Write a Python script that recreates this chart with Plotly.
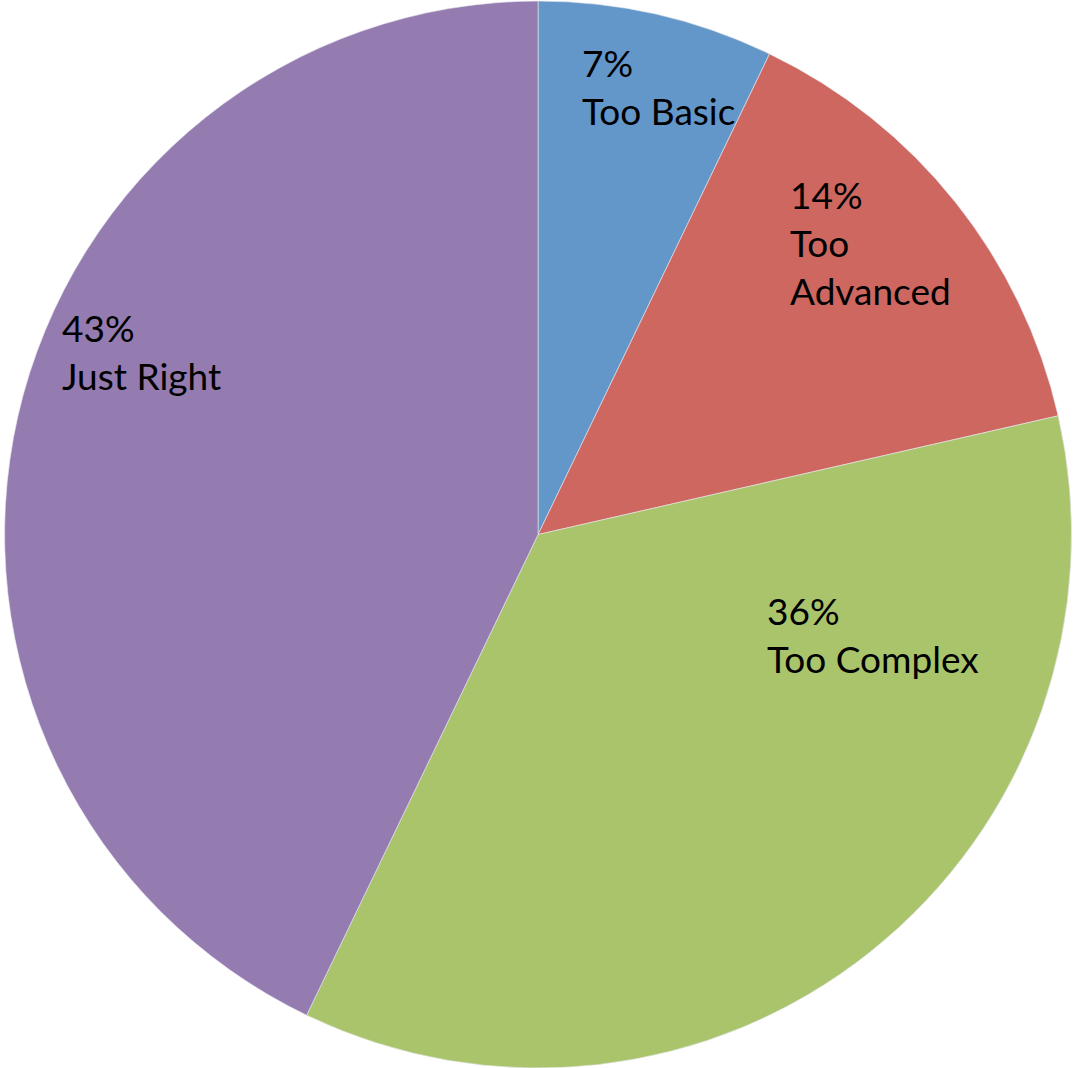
import plotly.graph_objects as go

labels = ["Too Basic", "Too Advanced", "Too Complex", "Just Right"]
values = [1, 2, 5, 6]
colors = ["#6397C9", "#CD6760", "#AAC46C", "#947BB0"]
label_text = ["7%<br>Too Basic", "14%<br>Too<br>Advanced", "36%<br>Too Complex", "43%<br>Just Right"]
# label anchor positions (top-left) in pixels
label_px = [(580, 38), (788, 170), (765, 586), (60, 303)]

W, H = 1074, 1068

fig = go.Figure(go.Pie(
    labels=labels, values=values, sort=False, direction="clockwise", rotation=0,
    marker=dict(colors=colors, line=dict(color="#e8e8f0", width=0.6)),
    textinfo="none", showlegend=False,
    domain=dict(x=[0.002, 1], y=[0, 0.999]),
))

for t, (px, py) in zip(label_text, label_px):
    fig.add_annotation(
        x=px / W, y=1 - py / H, xref="paper", yref="paper",
        xanchor="left", yanchor="top", align="left", showarrow=False,
        text=t, font=dict(family="Lato, Liberation Sans, sans-serif", size=37, color="#000000"),
    )

fig.update_layout(width=W, height=H, margin=dict(l=0, r=0, t=0, b=0),
                  paper_bgcolor="white", plot_bgcolor="white")
fig.write_html("out.html", config={"displayModeBar": False})

with open("out.html", "r", encoding="utf-8") as f:
    html = f.read()
html = html.replace("<head>", "<head><style>html,body{margin:0;padding:0;overflow:hidden;}</style>", 1)
with open("out.html", "w", encoding="utf-8") as f:
    f.write(html)
